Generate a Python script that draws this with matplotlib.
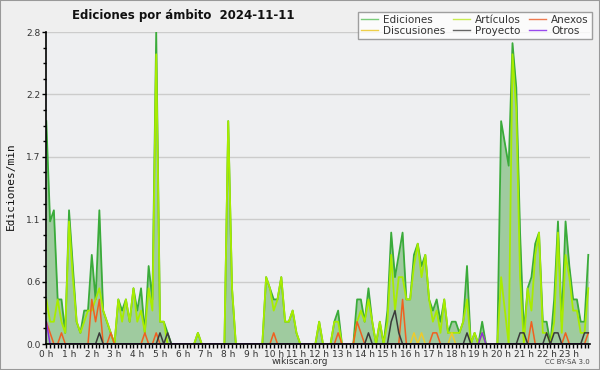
import matplotlib
matplotlib.use('Agg')
import numpy as np
import matplotlib.pyplot as plt
from matplotlib.lines import Line2D
from matplotlib.patches import Rectangle
from matplotlib.ticker import FixedLocator, MultipleLocator, FormatStrFormatter

titulo = 'Ediciones por ámbito  2024-11-11'
horas = ['%d h' % h for h in range(24)]

# valores cada 10 minutos (6 por hora, 4 horas por linea)
ediciones = [
    2.0, 1.1, 1.2, 0.4, 0.4, 0.1,  1.2, 0.7, 0.2, 0.1, 0.3, 0.3,  0.8, 0.4, 1.2, 0.3, 0.2, 0.1,  0.0, 0.4, 0.3, 0.4, 0.2, 0.5,
    0.3, 0.5, 0.1, 0.7, 0.4, 2.8,  0.2, 0.2, 0.1, 0.0, 0.0, 0.0,  0.0, 0.0, 0.0, 0.0, 0.1, 0.0,  0.0, 0.0, 0.0, 0.0, 0.0, 0.0,
    2.0, 0.5, 0.0, 0.0, 0.0, 0.0,  0.0, 0.0, 0.0, 0.0, 0.6, 0.5,  0.4, 0.4, 0.6, 0.2, 0.2, 0.3,  0.1, 0.0, 0.0, 0.0, 0.0, 0.0,
    0.2, 0.0, 0.0, 0.0, 0.2, 0.3,  0.0, 0.0, 0.0, 0.0, 0.4, 0.4,  0.2, 0.5, 0.2, 0.0, 0.2, 0.0,  0.3, 1.0, 0.6, 0.8, 1.0, 0.4,
    0.4, 0.8, 0.9, 0.7, 0.8, 0.4,  0.3, 0.4, 0.2, 0.4, 0.1, 0.2,  0.2, 0.1, 0.2, 0.7, 0.0, 0.1,  0.0, 0.2, 0.0, 0.0, 0.0, 0.0,
    2.0, 1.8, 1.6, 2.7, 2.3, 1.0,  0.1, 0.5, 0.6, 0.9, 1.0, 0.2,  0.2, 0.0, 0.4, 1.1, 0.2, 1.1,  0.7, 0.4, 0.4, 0.2, 0.2, 0.8,
]
articulos = [
    0.4, 0.2, 0.2, 0.4, 0.2, 0.1,  1.1, 0.6, 0.2, 0.1, 0.2, 0.3,  0.3, 0.4, 0.5, 0.3, 0.2, 0.1,  0.0, 0.4, 0.2, 0.4, 0.2, 0.5,
    0.2, 0.3, 0.1, 0.5, 0.3, 2.6,  0.2, 0.2, 0.0, 0.0, 0.0, 0.0,  0.0, 0.0, 0.0, 0.0, 0.1, 0.0,  0.0, 0.0, 0.0, 0.0, 0.0, 0.0,
    2.0, 0.5, 0.0, 0.0, 0.0, 0.0,  0.0, 0.0, 0.0, 0.0, 0.6, 0.5,  0.3, 0.4, 0.6, 0.2, 0.2, 0.3,  0.1, 0.0, 0.0, 0.0, 0.0, 0.0,
    0.2, 0.0, 0.0, 0.0, 0.2, 0.2,  0.0, 0.0, 0.0, 0.0, 0.2, 0.3,  0.2, 0.4, 0.2, 0.0, 0.2, 0.0,  0.2, 0.8, 0.3, 0.6, 0.6, 0.4,
    0.4, 0.7, 0.9, 0.6, 0.8, 0.4,  0.2, 0.3, 0.1, 0.4, 0.1, 0.1,  0.1, 0.1, 0.2, 0.4, 0.0, 0.1,  0.0, 0.1, 0.0, 0.0, 0.0, 0.0,
    0.6, 0.3, 0.0, 2.6, 2.1, 0.6,  0.0, 0.5, 0.3, 0.8, 1.0, 0.1,  0.1, 0.0, 0.2, 1.0, 0.1, 0.8,  0.6, 0.3, 0.3, 0.1, 0.1, 0.5,
]
anexos = [
    0.2, 0.1, 0.0, 0.0, 0.1, 0.0,  0.0, 0.0, 0.0, 0.0, 0.0, 0.0,  0.4, 0.2, 0.4, 0.0, 0.0, 0.1,  0.0, 0.0, 0.0, 0.0, 0.0, 0.0,
    0.0, 0.0, 0.1, 0.0, 0.0, 0.1,  0.0, 0.0, 0.0, 0.0, 0.0, 0.0,  0.0, 0.0, 0.0, 0.0, 0.0, 0.0,  0.0, 0.0, 0.0, 0.0, 0.0, 0.0,
    0.0, 0.0, 0.0, 0.0, 0.0, 0.0,  0.0, 0.0, 0.0, 0.0, 0.0, 0.0,  0.1, 0.0, 0.0, 0.0, 0.0, 0.0,  0.0, 0.0, 0.0, 0.0, 0.0, 0.0,
    0.0, 0.0, 0.0, 0.0, 0.0, 0.1,  0.0, 0.0, 0.0, 0.0, 0.2, 0.1,  0.0, 0.0, 0.0, 0.0, 0.0, 0.0,  0.0, 0.0, 0.0, 0.0, 0.4, 0.0,
    0.0, 0.0, 0.0, 0.0, 0.0, 0.0,  0.1, 0.1, 0.0, 0.0, 0.0, 0.0,  0.0, 0.0, 0.0, 0.0, 0.0, 0.0,  0.0, 0.0, 0.0, 0.0, 0.0, 0.0,
    0.0, 0.0, 0.0, 0.0, 0.0, 0.0,  0.0, 0.0, 0.2, 0.0, 0.0, 0.0,  0.0, 0.0, 0.0, 0.0, 0.0, 0.1,  0.0, 0.0, 0.0, 0.0, 0.0, 0.1,
]
discusiones = [
    0.0, 0.0, 0.0, 0.0, 0.0, 0.0,  0.0, 0.0, 0.0, 0.0, 0.0, 0.0,  0.0, 0.0, 0.0, 0.0, 0.0, 0.0,  0.0, 0.0, 0.0, 0.0, 0.0, 0.0,
    0.0, 0.0, 0.0, 0.0, 0.0, 0.0,  0.0, 0.0, 0.0, 0.0, 0.0, 0.0,  0.0, 0.0, 0.0, 0.0, 0.0, 0.0,  0.0, 0.0, 0.0, 0.0, 0.0, 0.0,
    0.0, 0.0, 0.0, 0.0, 0.0, 0.0,  0.0, 0.0, 0.0, 0.0, 0.0, 0.0,  0.0, 0.0, 0.0, 0.0, 0.0, 0.0,  0.0, 0.0, 0.0, 0.0, 0.0, 0.0,
    0.0, 0.0, 0.0, 0.0, 0.0, 0.0,  0.0, 0.0, 0.0, 0.0, 0.0, 0.0,  0.0, 0.0, 0.0, 0.0, 0.0, 0.0,  0.0, 0.0, 0.0, 0.0, 0.0, 0.0,
    0.0, 0.1, 0.0, 0.1, 0.0, 0.0,  0.0, 0.0, 0.0, 0.0, 0.0, 0.1,  0.0, 0.0, 0.0, 0.0, 0.0, 0.0,  0.0, 0.0, 0.0, 0.0, 0.0, 0.0,
    0.0, 0.0, 0.0, 0.0, 0.0, 0.0,  0.0, 0.0, 0.0, 0.0, 0.0, 0.0,  0.0, 0.0, 0.0, 0.0, 0.0, 0.0,  0.0, 0.0, 0.0, 0.0, 0.0, 0.0,
]
proyecto = [
    0.0, 0.0, 0.0, 0.0, 0.0, 0.0,  0.0, 0.0, 0.0, 0.0, 0.0, 0.0,  0.0, 0.0, 0.1, 0.0, 0.0, 0.0,  0.0, 0.0, 0.0, 0.0, 0.0, 0.0,
    0.0, 0.0, 0.0, 0.0, 0.0, 0.0,  0.1, 0.0, 0.1, 0.0, 0.0, 0.0,  0.0, 0.0, 0.0, 0.0, 0.0, 0.0,  0.0, 0.0, 0.0, 0.0, 0.0, 0.0,
    0.0, 0.0, 0.0, 0.0, 0.0, 0.0,  0.0, 0.0, 0.0, 0.0, 0.0, 0.0,  0.0, 0.0, 0.0, 0.0, 0.0, 0.0,  0.0, 0.0, 0.0, 0.0, 0.0, 0.0,
    0.0, 0.0, 0.0, 0.0, 0.0, 0.0,  0.0, 0.0, 0.0, 0.0, 0.0, 0.0,  0.0, 0.1, 0.0, 0.0, 0.0, 0.0,  0.0, 0.2, 0.3, 0.1, 0.0, 0.0,
    0.0, 0.0, 0.0, 0.0, 0.0, 0.0,  0.0, 0.0, 0.0, 0.0, 0.0, 0.0,  0.0, 0.0, 0.0, 0.1, 0.0, 0.0,  0.0, 0.0, 0.0, 0.0, 0.0, 0.0,
    0.0, 0.0, 0.0, 0.0, 0.0, 0.1,  0.1, 0.0, 0.0, 0.0, 0.0, 0.0,  0.1, 0.0, 0.1, 0.1, 0.0, 0.0,  0.0, 0.0, 0.0, 0.0, 0.1, 0.1,
]
otros = [
    0.2, 0.0, 0.0, 0.0, 0.0, 0.0,  0.0, 0.0, 0.0, 0.0, 0.0, 0.0,  0.0, 0.0, 0.0, 0.0, 0.0, 0.0,  0.0, 0.0, 0.0, 0.0, 0.0, 0.0,
    0.0, 0.0, 0.0, 0.0, 0.0, 0.0,  0.0, 0.0, 0.0, 0.0, 0.0, 0.0,  0.0, 0.0, 0.0, 0.0, 0.0, 0.0,  0.0, 0.0, 0.0, 0.0, 0.0, 0.0,
    0.0, 0.0, 0.0, 0.0, 0.0, 0.0,  0.0, 0.0, 0.0, 0.0, 0.0, 0.0,  0.0, 0.0, 0.0, 0.0, 0.0, 0.0,  0.0, 0.0, 0.0, 0.0, 0.0, 0.0,
    0.0, 0.0, 0.0, 0.0, 0.0, 0.0,  0.0, 0.0, 0.0, 0.0, 0.0, 0.0,  0.0, 0.0, 0.0, 0.0, 0.0, 0.0,  0.0, 0.0, 0.0, 0.0, 0.0, 0.0,
    0.0, 0.0, 0.0, 0.0, 0.0, 0.0,  0.0, 0.0, 0.0, 0.0, 0.0, 0.0,  0.0, 0.0, 0.0, 0.0, 0.0, 0.0,  0.0, 0.1, 0.0, 0.0, 0.0, 0.0,
    0.0, 0.0, 0.0, 0.0, 0.0, 0.0,  0.0, 0.0, 0.0, 0.0, 0.0, 0.0,  0.0, 0.0, 0.0, 0.0, 0.0, 0.0,  0.0, 0.0, 0.0, 0.0, 0.0, 0.0,
]

x = np.arange(len(ediciones))

fig = plt.figure(figsize=(6, 3.7), dpi=100, facecolor='#efefef')
fig.patches.append(Rectangle((0, 0), 1, 1, transform=fig.transFigure, fill=False,
                             edgecolor='#999999', lw=1.5))
ax = fig.add_axes([46.3 / 600, 26 / 370, (590 - 46.3) / 600, 312 / 370])
ax.set_facecolor('#eeeff1')

# area de ediciones y lineas por ambito
ax.fill_between(x, ediciones, color='#9fcb9f', lw=0, zorder=2)
ax.plot(x, ediciones, color='#3aab3a', lw=1.3, zorder=3)
ax.plot(x, articulos, color='#a8ec00', lw=1.3, zorder=4)
ax.plot(x, discusiones, color='#eecb2a', lw=1.1, zorder=5)
ax.plot(x, anexos, color='#f06020', lw=1.1, zorder=5)
ax.plot(x, proyecto, color='#3a3a3a', lw=1.1, zorder=6)
ax.plot(x, otros, color='#8a2be2', lw=1.1, zorder=6)

ax.set_xlim(0, 143.45)
ax.set_ylim(0, 2.8)

ax.yaxis.set_major_locator(FixedLocator(np.linspace(0, 2.8, 6)))
ax.yaxis.set_major_formatter(FormatStrFormatter('%.1f'))
ax.yaxis.set_minor_locator(MultipleLocator(0.14))
ax.set_xticks(np.arange(0, 144, 6))
ax.set_xticklabels(horas)
ax.xaxis.set_minor_locator(MultipleLocator(1))

ax.tick_params(axis='both', which='major', labelsize=6.5, colors='#000000',
               labelcolor='#333333', length=3, width=1, pad=1)
ax.tick_params(axis='y', which='minor', length=2, width=1)
ax.tick_params(axis='x', which='minor', length=3, width=1)
ax.grid(axis='y', which='major', color='#cccccc', lw=1, zorder=1)
ax.set_axisbelow(True)
for s in ['top', 'right']:
    ax.spines[s].set_visible(False)
for s in ['left', 'bottom']:
    ax.spines[s].set_linewidth(1.2)
    ax.spines[s].set_zorder(10)

fig.text(183 / 600, 1 - 15 / 370, titulo, ha='center', va='center',
         fontsize=8.5, fontweight='bold', color='#111111')
fig.text(11 / 600, 1 - 186 / 370, 'Ediciones/min', rotation=90, ha='center',
         va='center', fontsize=8, family='DejaVu Sans Mono', color='#111111')
fig.text(300 / 600, 1 - 362 / 370, 'wikiscan.org', ha='center', va='center',
         fontsize=6.5, color='#333333')
fig.text(590 / 600, 1 - 362 / 370, 'CC BY-SA 3.0', ha='right', va='center',
         fontsize=5, color='#444444')

handles = [
    Line2D([], [], color='#7acc7a', lw=1), Line2D([], [], color='#eecf4a', lw=1),
    Line2D([], [], color='#c8ec50', lw=1), Line2D([], [], color='#666666', lw=1),
    Line2D([], [], color='#ee7a50', lw=1), Line2D([], [], color='#9a4aee', lw=1),
]
labels = ['Ediciones', 'Discusiones', 'Artículos', 'Proyecto', 'Anexos', 'Otros']
leg = fig.legend(handles, labels, ncol=3, loc='upper right',
                 bbox_to_anchor=(592 / 600, 1 - 12 / 370), fontsize=7.5,
                 frameon=True, fancybox=False, edgecolor='#888888',
                 handlelength=1.6, handletextpad=0.5, columnspacing=0.8,
                 labelspacing=0.05, borderpad=0.3, borderaxespad=0)
leg.get_frame().set_linewidth(1)
for t in leg.get_texts():
    t.set_color('#333333')

fig.savefig('out.png', dpi=100, facecolor=fig.get_facecolor())
